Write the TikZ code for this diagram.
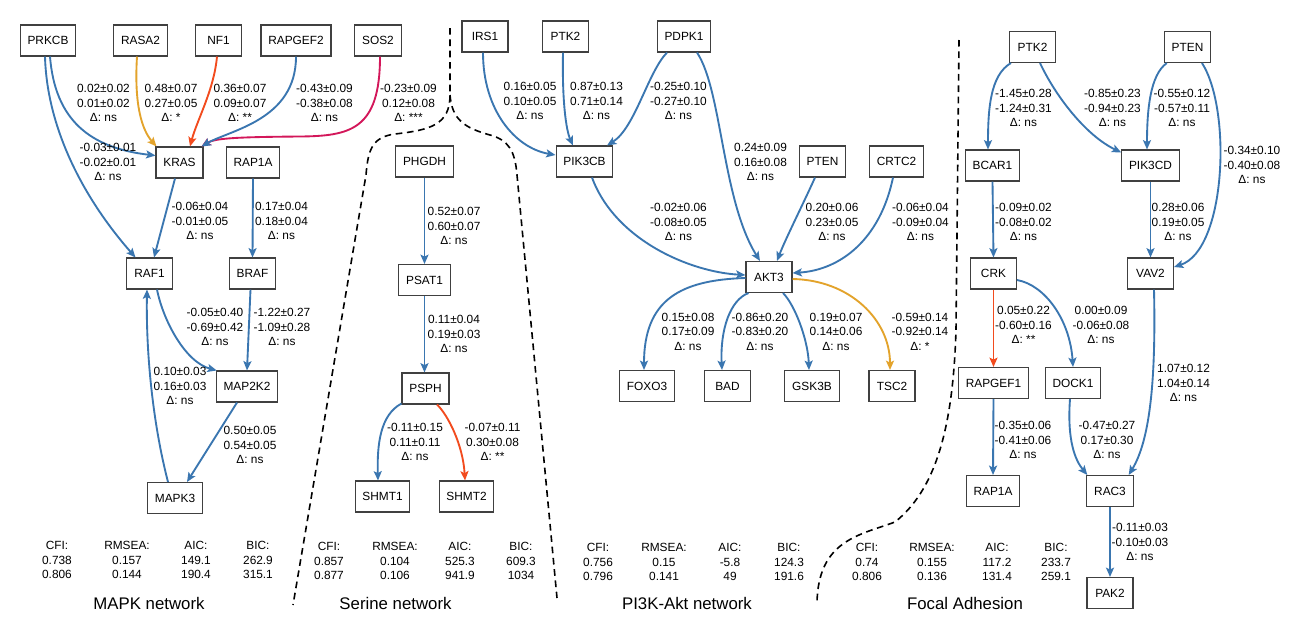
\documentclass[tikz,border=0pt]{standalone}
\usepackage{fontspec}
\setmainfont{Liberation Sans}
\usetikzlibrary{arrows.meta,calc}
\definecolor{cblue}{HTML}{3A76B0}
\definecolor{cgold}{HTML}{E3A32B}
\definecolor{cred}{HTML}{F24B1E}
\definecolor{ccrim}{HTML}{D3175A}
\definecolor{cbox}{HTML}{404040}
\tikzset{
 gene/.style={draw=cbox, line width=0.8pt, fill=white, minimum width=34.5pt, minimum height=23.25pt, inner xsep=5.5pt, inner ysep=0pt, font=\fontsize{8.9}{10.9}\selectfont},
 lab/.style={align=center, inner sep=0pt, font=\fontsize{8.9}{10.9}\selectfont},
 stat/.style={align=center, inner sep=0pt, font=\fontsize{8.9}{10.9}\selectfont},
 ttl/.style={inner sep=0pt, font=\fontsize{12.6}{15}\selectfont},
 edgebase/.style={line width=1.4pt, -{Stealth[length=7pt,width=6pt,inset=1.5pt]}},
 edgeb/.style={edgebase, draw=cblue},
 edgeg/.style={edgebase, draw=cgold},
 edger/.style={edgebase, draw=cred},
 edgec/.style={edgebase, draw=ccrim},
 sepline/.style={draw=black, line width=1.2pt, dash pattern=on 5pt off 3.5pt},
}
\begin{document}
\begin{tikzpicture}[x=0.75pt,y=-0.75pt]
\useasboundingbox[fill=white] (0,0) rectangle (1300,629);

% ---------- separators ----------
\draw[sepline] (450,28) -- (450,95) .. controls (450,125) and (430,130) .. (395,134) .. controls (372,137) and (368,150) .. (366,175) -- (293,605);
\draw[sepline] (450,95) .. controls (452,120) and (465,128) .. (490,135) .. controls (508,140) and (515,150) .. (517,175) -- (557,598);
\draw[sepline] (959,40) -- (956,330) .. controls (953,430) and (935,490) .. (895,522) .. controls (860,535) and (818,540) .. (817,603);

% ---------- MAPK nodes ----------
\node[gene] (PRKCB) at (48,40.5) {PRKCB};
\node[gene] (RASA2) at (140.5,40.5) {RASA2};
\node[gene] (NF1) at (218.5,40.5) {NF1};
\node[gene] (RAPGEF2) at (296,40.5) {RAPGEF2};
\node[gene] (SOS2) at (378,40.5) {SOS2};
\node[gene] (KRAS) at (179.5,162.5) {KRAS};
\node[gene] (RAP1Aa) at (253,162.5) {RAP1A};
\node[gene] (RAF1) at (149.5,273.5) {RAF1};
\node[gene] (BRAF) at (252.5,273.5) {BRAF};
\node[gene] (MAP2K2) at (247,386.5) {MAP2K2};
\node[gene] (MAPK3) at (175,498) {MAPK3};

% ---------- Serine nodes ----------
\node[gene] (PHGDH) at (424.5,161.5) {PHGDH};
\node[gene] (PSAT1) at (424.5,280) {PSAT1};
\node[gene] (PSPH) at (425.5,388.5) {PSPH};
\node[gene] (SHMT1) at (382.5,496.5) {SHMT1};
\node[gene] (SHMT2) at (466.5,496.5) {SHMT2};

% ---------- PI3K nodes ----------
\node[gene] (IRS1) at (485,36.5) {IRS1};
\node[gene] (PTK2a) at (565.5,36.5) {PTK2};
\node[gene] (PDPK1) at (684,36.5) {PDPK1};
\node[gene] (PIK3CB) at (584.5,161.5) {PIK3CB};
\node[gene] (PTENa) at (822.5,161.5) {PTEN};
\node[gene] (CRTC2) at (896.5,161.5) {CRTC2};
\node[gene] (AKT3) at (769,277) {AKT3};
\node[gene] (FOXO3) at (647,386) {FOXO3};
\node[gene] (BAD) at (727.5,386) {BAD};
\node[gene] (GSK3B) at (812,386) {GSK3B};
\node[gene] (TSC2) at (892,386) {TSC2};

% ---------- Focal adhesion nodes ----------
\node[gene] (PTK2b) at (1032.5,47) {PTK2};
\node[gene] (PTENb) at (1187.5,47) {PTEN};
\node[gene] (BCAR1) at (992.5,165.5) {BCAR1};
\node[gene] (PIK3CD) at (1150.5,165.5) {PIK3CD};
\node[gene] (CRK) at (993.5,273.5) {CRK};
\node[gene] (VAV2) at (1150.5,273.5) {VAV2};
\node[gene] (RAPGEF1) at (993.5,383) {RAPGEF1};
\node[gene] (DOCK1) at (1073,383) {DOCK1};
\node[gene] (RAP1Ab) at (993,491) {RAP1A};
\node[gene] (RAC3) at (1110,491) {RAC3};
\node[gene] (PAK2) at (1110,593) {PAK2};

% ---------- MAPK edges ----------
\draw[edgeb] ($(PRKCB.south)+(2,0)$) .. controls (55,120) and (90,148) .. ($(KRAS.west)+(0,-7)$);
\draw[edgeb] ($(PRKCB.south)+(-3,0)$) .. controls (47,130) and (85,200) .. ($(RAF1.north)+(-14,0)$);
\draw[edgeg] ($(RASA2.south)+(-3.5,0)$) .. controls (134,105) and (142,130) .. ($(KRAS.north west)+(1,0)$);
\draw[edger] ($(NF1.south)+(-1.5,0)$) .. controls (214,90) and (197,120) .. ($(KRAS.north)+(10.5,0)$);
\draw[edgec] ($(SOS2.south)+(2,0)$) .. controls (380,130) and (350,136) .. (300,136.5) .. controls (240,137) and (215,138) .. ($(KRAS.north east)+(-2,0)$);
\draw[edgeb] (RAPGEF2.south) .. controls (296,120) and (230,130) .. ($(KRAS.north east)+(-2,0)$);
\draw[edgeb] ($(KRAS.south)+(-4.5,0)$) -- ($(RAF1.north)+(4.5,0)$);
\draw[edgeb] (RAP1Aa.south) -- (BRAF.north);
\draw[edgeb] ($(RAF1.south)+(7.5,0)$) .. controls (163,320) and (185,362) .. ($(MAP2K2.north west)+(1,0)$);
\draw[edgeb] ($(BRAF.south)+(-2,0)$) -- (MAP2K2.north);
\draw[edgeb] ($(MAPK3.north)+(-7,0)$) .. controls (152,420) and (146,350) .. ($(RAF1.south)+(-2.5,0)$);
\draw[edgeb] ($(MAP2K2.south)+(-10,0)$) -- ($(MAPK3.north)+(12,0)$);

% ---------- Serine edges ----------
\draw[edgeb] (PHGDH.south) -- (PSAT1.north);
\draw[edgeb] (PSAT1.south) -- ($(PSPH.north)+(-1,0)$);
\draw[edgeb] ($(PSPH.south west)+(0,-1)$) .. controls (380,415) and (377,445) .. ($(SHMT1.north)+(-4.5,0)$);
\draw[edger] ($(PSPH.south)+(11.5,0)$) .. controls (448,415) and (463,445) .. ($(SHMT2.north)+(-1.5,0)$);

% ---------- PI3K edges ----------
\draw[edgeb] ($(IRS1.south)+(-2,0)$) .. controls (483,110) and (515,148) .. ($(PIK3CB.west)+(0,-6.5)$);
\draw[edgeb] ($(PTK2a.south)+(-2.5,0)$) .. controls (562,100) and (566,130) .. ($(PIK3CB.north)+(-11.5,0)$);
\draw[edgeb] ($(PDPK1.south)+(-17,0)$) .. controls (648,72) and (635,128) .. ($(PIK3CB.north)+(22.5,0)$);
\draw[edgeb] ($(PDPK1.south)+(13,0)$) .. controls (722,90) and (722,200) .. ($(AKT3.north)+(-9,0)$);
\draw[edgeb] ($(PIK3CB.south)+(7.5,0)$) .. controls (615,240) and (690,272) .. ($(AKT3.west)+(0,-2)$);
\draw[edgeb] ($(PTENa.south)+(-7.5,0)$) .. controls (805,200) and (785,240) .. ($(AKT3.north)+(8,0)$);
\draw[edgeb] ($(CRTC2.south)+(-3.5,0)$) .. controls (880,240) and (840,270) .. ($(AKT3.east)+(0,-4)$);
\draw[edgeb] ($(AKT3.west)+(0,1)$) .. controls (680,280) and (644,300) .. ($(FOXO3.north)+(-3,0)$);
\draw[edgeb] ($(AKT3.south west)+(3,0)$) .. controls (730,300) and (720,330) .. ($(BAD.north)+(-5.5,0)$);
\draw[edgeb] ($(AKT3.south)+(14,0)$) .. controls (795,305) and (808,340) .. ($(GSK3B.north)+(-3,0)$);
\draw[edgeg] ($(AKT3.east)+(0,2)$) .. controls (850,280) and (890,320) .. ($(TSC2.north)+(-2,0)$);

% ---------- Focal edges ----------
\draw[edgeb] ($(PTK2b.south west)+(2,0)$) .. controls (990,75) and (988,110) .. ($(BCAR1.north)+(-4.5,0)$);
\draw[edgeb] ($(PTK2b.south)+(7.5,0)$) .. controls (1055,95) and (1085,135) .. ($(PIK3CD.north west)+(0,3)$);
\draw[edgeb] ($(PTENb.south west)+(3,0)$) .. controls (1150,75) and (1147,110) .. ($(PIK3CD.north)+(-3.5,0)$);
\draw[edgeb] ($(PTENb.south)+(14.5,0)$) .. controls (1232,110) and (1226,250) .. ($(VAV2.east)+(0,-6.5)$);
\draw[edgeb] (BCAR1.south) -- (CRK.north);
\draw[edgeb] (PIK3CD.south) -- (VAV2.north);
\draw[edger] (CRK.south) -- (RAPGEF1.north);
\draw[edgeb] ($(CRK.east)+(0,6.5)$) .. controls (1045,285) and (1070,320) .. (DOCK1.north);
\draw[edgeb] ($(VAV2.south)+(3.5,0)$) .. controls (1156,380) and (1150,440) .. ($(RAC3.north east)+(-5,0)$);
\draw[edgeb] (RAPGEF1.south) -- (RAP1Ab.north);
\draw[edgeb] ($(DOCK1.south)+(-3,0)$) .. controls (1067,440) and (1075,460) .. ($(RAC3.north west)+(1,0)$);
\draw[edgeb] (RAC3.south) -- (PAK2.north);

% ---------- MAPK labels ----------
\node[lab] (l1) at (103.5,103) {0.02±0.02\\0.01±0.02\\Δ: ns};
\node[lab] (l2) at (171,103) {0.48±0.07\\0.27±0.05\\Δ: *};
\node[lab] (l3) at (240,103) {0.36±0.07\\0.09±0.07\\Δ: **};
\node[lab] (l4) at (324.5,103) {-0.43±0.09\\-0.38±0.08\\Δ: ns};
\node[lab] (l5) at (408.5,103) {-0.23±0.09\\0.12±0.08\\Δ: ***};
\node[lab] (l6) at (108,162) {-0.03±0.01\\-0.02±0.01\\Δ: ns};
\node[lab] (l7) at (200,221) {-0.06±0.04\\-0.01±0.05\\Δ: ns};
\node[lab] (l8) at (281.5,221) {0.17±0.04\\0.18±0.04\\Δ: ns};
\node[lab] (l9) at (215,327) {-0.05±0.40\\-0.69±0.42\\Δ: ns};
\node[lab] (l10) at (282,327) {-1.22±0.27\\-1.09±0.28\\Δ: ns};
\node[lab] (l11) at (180,386) {0.10±0.03\\0.16±0.03\\Δ: ns};
\node[lab] (l12) at (250,445) {0.50±0.05\\0.54±0.05\\Δ: ns};

% ---------- Serine labels ----------
\node[lab] (s1) at (454,226) {0.52±0.07\\0.60±0.07\\Δ: ns};
\node[lab] (s2) at (454,334) {0.11±0.04\\0.19±0.03\\Δ: ns};
\node[lab] (s3) at (415,442) {-0.11±0.15\\0.11±0.11\\Δ: ns};
\node[lab] (s4) at (492.5,442) {-0.07±0.11\\0.30±0.08\\Δ: **};

% ---------- PI3K labels ----------
\node[lab] (p1) at (530,101) {0.16±0.05\\0.10±0.05\\Δ: ns};
\node[lab] (p2) at (596.5,101) {0.87±0.13\\0.71±0.14\\Δ: ns};
\node[lab] (p3) at (678.5,101) {-0.25±0.10\\-0.27±0.10\\Δ: ns};
\node[lab] (p4) at (760.5,162) {0.24±0.09\\0.16±0.08\\Δ: ns};
\node[lab] (p5) at (678.5,222) {-0.02±0.06\\-0.08±0.05\\Δ: ns};
\node[lab] (p6) at (832,222) {0.20±0.06\\0.23±0.05\\Δ: ns};
\node[lab] (p7) at (920.5,222) {-0.06±0.04\\-0.09±0.04\\Δ: ns};
\node[lab] (p8) at (688,331.5) {0.15±0.08\\0.17±0.09\\Δ: ns};
\node[lab] (p9) at (760,331.5) {-0.86±0.20\\-0.83±0.20\\Δ: ns};
\node[lab] (p10) at (836,331.5) {0.19±0.07\\0.14±0.06\\Δ: ns};
\node[lab] (p11) at (920,331.5) {-0.59±0.14\\-0.92±0.14\\Δ: *};

% ---------- Focal labels ----------
\node[lab] (f1) at (1023.5,108) {-1.45±0.28\\-1.24±0.31\\Δ: ns};
\node[lab] (f2) at (1112.5,108) {-0.85±0.23\\-0.94±0.23\\Δ: ns};
\node[lab] (f3) at (1182,108) {-0.55±0.12\\-0.57±0.11\\Δ: ns};
\node[lab] (f4) at (1252,165) {-0.34±0.10\\-0.40±0.08\\Δ: ns};
\node[lab] (f5) at (1023.5,222) {-0.09±0.02\\-0.08±0.02\\Δ: ns};
\node[lab] (f6) at (1178,222) {0.28±0.06\\0.19±0.05\\Δ: ns};
\node[lab] (f7) at (1023.5,325) {0.05±0.22\\-0.60±0.16\\Δ: **};
\node[lab] (f8) at (1101,325) {0.00±0.09\\-0.06±0.08\\Δ: ns};
\node[lab] (f9) at (1183.5,383) {1.07±0.12\\1.04±0.14\\Δ: ns};
\node[lab] (f10) at (1023,440) {-0.35±0.06\\-0.41±0.06\\Δ: ns};
\node[lab] (f11) at (1107,440) {-0.47±0.27\\0.17±0.30\\Δ: ns};
\node[lab] (f12) at (1140,542) {-0.11±0.03\\-0.10±0.03\\Δ: ns};

% ---------- stats ----------
\node[stat] (m1) at (57,560) {CFI:\\0.738\\0.806};
\node[stat] (m2) at (127,560) {RMSEA:\\0.157\\0.144};
\node[stat] (m3) at (196,560) {AIC:\\149.1\\190.4};
\node[stat] (m4) at (258,560) {BIC:\\262.9\\315.1};
\node[stat] (n1) at (329,561) {CFI:\\0.857\\0.877};
\node[stat] (n2) at (395,561) {RMSEA:\\0.104\\0.106};
\node[stat] (n3) at (460,561) {AIC:\\525.3\\941.9};
\node[stat] (n4) at (521,561) {BIC:\\609.3\\1034};
\node[stat] (q1) at (598,562) {CFI:\\0.756\\0.796};
\node[stat] (q2) at (664,562) {RMSEA:\\0.15\\0.141};
\node[stat] (q3) at (730,562) {AIC:\\-5.8\\49};
\node[stat] (q4) at (789,562) {BIC:\\124.3\\191.6};
\node[stat] (r1) at (867,562) {CFI:\\0.74\\0.806};
\node[stat] (r2) at (932,562) {RMSEA:\\0.155\\0.136};
\node[stat] (r3) at (997,562) {AIC:\\117.2\\131.4};
\node[stat] (r4) at (1056,562) {BIC:\\233.7\\259.1};

% ---------- titles ----------
\node[ttl] (t1) at (149,603) {MAPK network};
\node[ttl] (t2) at (395.5,603) {Serine network};
\node[ttl] (t3) at (687,603) {PI3K-Akt network};
\node[ttl] (t4) at (965,603) {Focal Adhesion};
\end{tikzpicture}
\end{document}
